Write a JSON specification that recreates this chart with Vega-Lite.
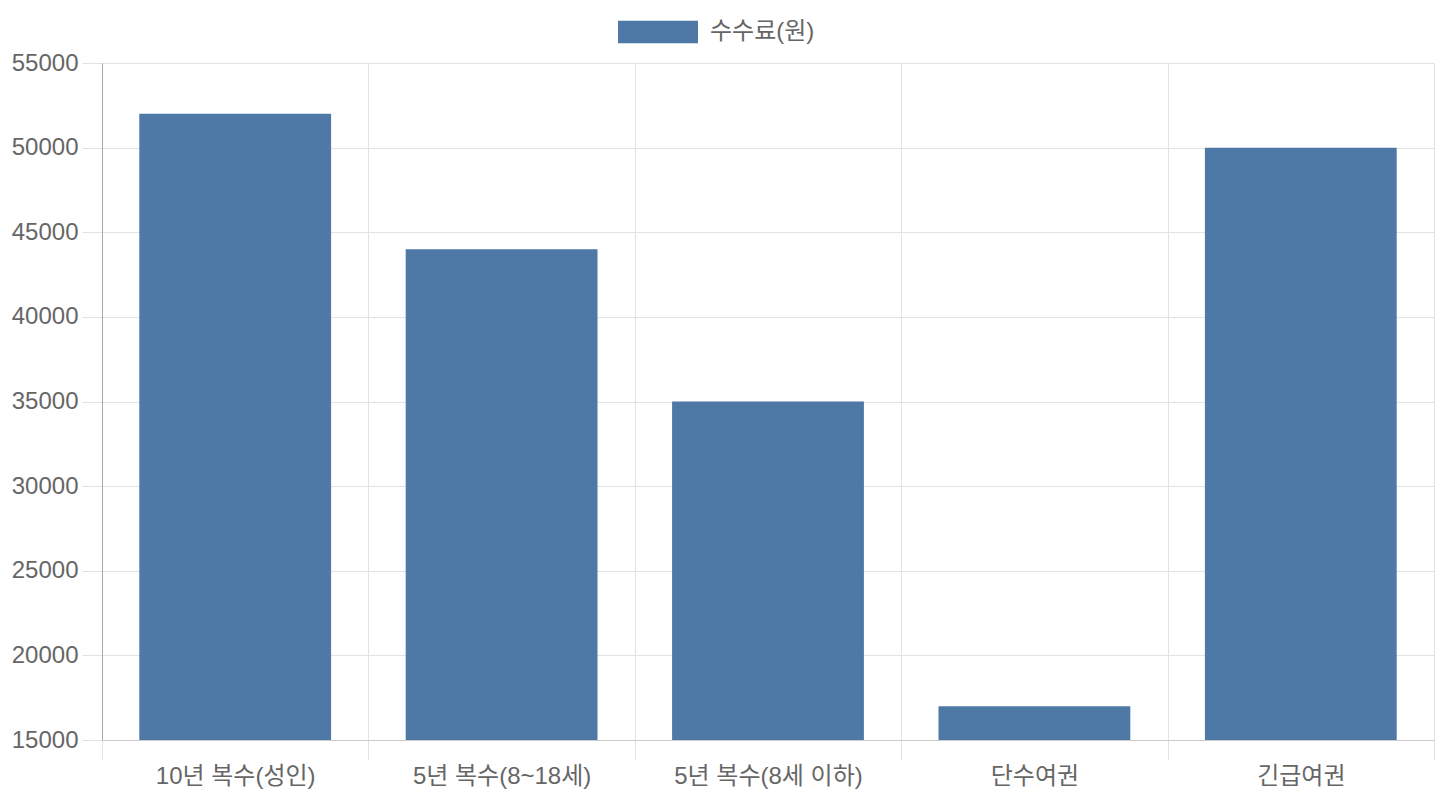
{
  "$schema": "https://vega.github.io/schema/vega-lite/v6.json",
  "width": 1332,
  "height": 677,
  "autosize": "none",
  "padding": {"left": 102, "top": 63, "right": 6, "bottom": 60},
  "background": "white",
  "config": {
    "font": "Liberation Sans, Noto Sans CJK KR",
    "view": {"stroke": null},
    "axis": {
      "labelFont": "Liberation Sans, Noto Sans CJK KR",
      "labelFontSize": 24,
      "labelColor": "#666666",
      "labelLimit": 400,
      "gridColor": "#e2e2e2",
      "tickColor": "#e2e2e2",
      "tickSize": 20,
      "title": null
    }
  },
  "data": {
    "values": [
      {"type": "10년 복수(성인)", "fee": 52000},
      {"type": "5년 복수(8~18세)", "fee": 44000},
      {"type": "5년 복수(8세 이하)", "fee": 35000},
      {"type": "단수여권", "fee": 17000},
      {"type": "긴급여권", "fee": 50000}
    ]
  },
  "mark": {"type": "bar", "width": {"band": 0.72}},
  "encoding": {
    "x": {
      "field": "type",
      "type": "nominal",
      "sort": null,
      "scale": {"paddingInner": 0, "paddingOuter": 0},
      "axis": {
        "labelAngle": 0,
        "tickBand": "extent",
        "grid": true,
        "domainColor": "#cccccc",
        "labelPadding": 4
      }
    },
    "y": {
      "field": "fee",
      "type": "quantitative",
      "scale": {"domain": [15000, 55000], "nice": false, "zero": false},
      "axis": {
        "values": [15000, 20000, 25000, 30000, 35000, 40000, 45000, 50000, 55000],
        "format": "d",
        "domainColor": "#a8a8a8",
        "labelPadding": 4
      }
    },
    "y2": {"datum": 15000},
    "color": {
      "datum": "수수료(원)",
      "type": "nominal",
      "scale": {"range": ["#4e79a7"]},
      "legend": {
        "title": null,
        "orient": "none",
        "legendX": 516,
        "legendY": -71,
        "padding": 0,
        "symbolType": "M-1,-0.28H1V0.28H-1Z",
        "symbolSize": 6400,
        "symbolStrokeWidth": 0,
        "symbolOpacity": 1,
        "labelFontSize": 24,
        "labelColor": "#666666",
        "labelOffset": 12,
        "labelFont": "Liberation Sans, Noto Sans CJK KR"
      }
    }
  }
}
